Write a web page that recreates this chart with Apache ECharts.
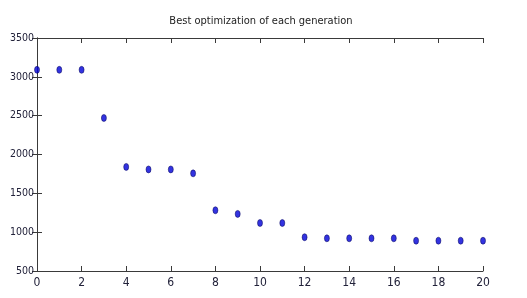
<!DOCTYPE html>
<html>
<head>
<meta charset="utf-8">
<script src="https://cdn.jsdelivr.net/npm/echarts@6/dist/echarts.min.js"></script>
<style>
  html, body { margin: 0; padding: 0; background: #fff; }
  #chart { width: 527px; height: 298px; }
</style>
</head>
<body>
<div id="chart"></div>
<script>
// best result per generation
var generations = [0, 1, 2, 3, 4, 5, 6, 7, 8, 9, 10, 11, 12, 13, 14, 15, 16, 17, 18, 19, 20];
var bestValues = [3090, 3090, 3090, 2470, 1840, 1808, 1808, 1757, 1282, 1235, 1118, 1118, 935, 921, 921, 921, 921, 890, 890, 890, 890];

var FONT = "'DejaVu Sans Condensed', 'Liberation Sans Narrow', sans-serif";
var axisColor = '#3a3a3a';

var points = [];
for (var i = 0; i < generations.length; i++) {
  points.push([generations[i], bestValues[i]]);
}

function xAx(pos, showLabel) {
  return {
    type: 'value', position: pos, min: 0, max: 20, interval: 2,
    axisLine: { show: true, lineStyle: { color: axisColor, width: 1 } },
    axisTick: { show: true, inside: true, length: 5, lineStyle: { color: axisColor } },
    axisLabel: { show: showLabel, color: '#22223a', fontFamily: FONT, fontSize: 12, margin: 6 },
    splitLine: { show: false }
  };
}
function yAx(pos, showLabel) {
  return {
    type: 'value', position: pos, min: 500, max: 3500, interval: 500,
    axisLine: { show: true, lineStyle: { color: axisColor, width: 1 } },
    axisTick: { show: true, inside: true, length: 5, lineStyle: { color: axisColor } },
    axisLabel: {
      show: showLabel, color: '#22223a', fontFamily: FONT, fontSize: 10.5, margin: 3,
      formatter: function (v) { return String(v); }
    },
    splitLine: { show: false }
  };
}

var chart = echarts.init(document.getElementById('chart'), null, { renderer: 'canvas' });
chart.setOption({
  animation: false,
  backgroundColor: '#fff',
  title: {
    text: 'Best optimization of each generation',
    left: 256, top: 11, textAlign: 'center',
    textStyle: { fontFamily: FONT, fontSize: 11, fontWeight: 'normal', color: '#222' }
  },
  grid: { left: 37, right: 44, top: 38, bottom: 27 },
  xAxis: [xAx('bottom', true), xAx('top', false)],
  yAxis: [yAx('left', true), yAx('right', false)],
  series: [{
    type: 'scatter',
    data: points,
    symbol: 'circle',
    symbolSize: [5, 7],
    itemStyle: { color: '#0000d8', borderColor: '#000050', borderWidth: 0.6 }
  }]
});
</script>
</body>
</html>
